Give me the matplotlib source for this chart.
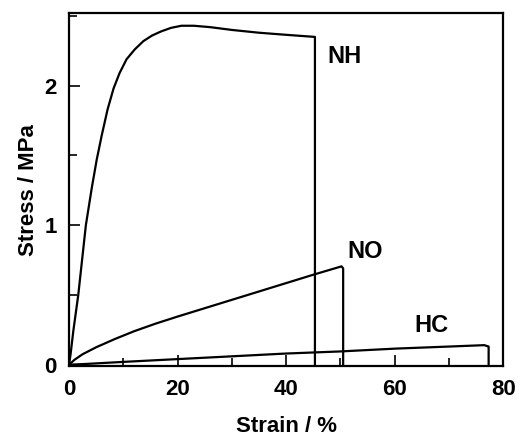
import matplotlib
matplotlib.use('Agg')
import matplotlib.pyplot as plt
from matplotlib.ticker import MultipleLocator

plt.rcParams['font.family'] = ['Liberation Sans', 'DejaVu Sans']
plt.rcParams['font.weight'] = 'bold'

# stress-strain curves
nh_strain = [0, 0.3, 0.8, 1.7, 2.4, 3.1, 4.2, 5.1, 6.0, 7.1, 8.2, 9.3, 10.6, 12.1,
             13.7, 15.3, 17.0, 18.8, 20.7, 23.0, 26.0, 30.0, 35.0, 40.0, 45.3, 45.3]
nh_stress = [0, 0.08, 0.245, 0.5, 0.75, 1.0, 1.27, 1.47, 1.64, 1.83, 1.98, 2.09, 2.19,
             2.26, 2.32, 2.36, 2.39, 2.415, 2.43, 2.43, 2.42, 2.40, 2.38, 2.365, 2.35, 0]

no_strain = [0, 1, 2.5, 5, 8.5, 12, 16, 20, 25, 30, 35, 40, 45, 50.2, 50.5, 50.5]
no_stress = [0, 0.035, 0.075, 0.125, 0.185, 0.24, 0.295, 0.345, 0.405, 0.465, 0.525,
             0.585, 0.645, 0.705, 0.69, 0]

hc_strain = [0, 3, 10, 20, 30, 40, 50, 60, 70, 76.5, 77.3, 77.3]
hc_stress = [0, 0.005, 0.02, 0.04, 0.06, 0.08, 0.095, 0.115, 0.13, 0.14, 0.13, 0]

labels = ['NH', 'NO', 'HC']
label_pos = [(50.8, 2.21), (54.5, 0.81), (66.8, 0.28)]

fig = plt.figure(figsize=(5.27, 4.4), dpi=100)
ax = fig.add_axes([0.131, 0.168, 0.824, 0.802])

for xs, ys in [(nh_strain, nh_stress), (no_strain, no_stress), (hc_strain, hc_stress)]:
    ax.plot(xs, ys, color='black', lw=1.6)

for lab, (tx, ty) in zip(labels, label_pos):
    ax.text(tx, ty, lab, fontsize=17, fontweight='bold', ha='center', va='center')

ax.set_xlim(0, 80)
ax.set_ylim(-0.01, 2.52)
ax.xaxis.set_major_locator(MultipleLocator(20))
ax.xaxis.set_minor_locator(MultipleLocator(10))
ax.yaxis.set_major_locator(MultipleLocator(1))
ax.yaxis.set_minor_locator(MultipleLocator(0.5))
ax.tick_params(which='both', direction='in', width=1.2, labelsize=16)
ax.tick_params(axis='x', pad=9)
ax.tick_params(axis='y', pad=9)
ax.tick_params(which='major', length=8)
ax.tick_params(which='minor', length=6)
for sp in ax.spines.values():
    sp.set_linewidth(1.6)

ax.set_xlabel('Strain / %', fontsize=16, fontweight='bold', labelpad=12)
ax.set_ylabel('Stress / MPa', fontsize=16, fontweight='bold', labelpad=4)

fig.savefig('out.png', dpi=100)
